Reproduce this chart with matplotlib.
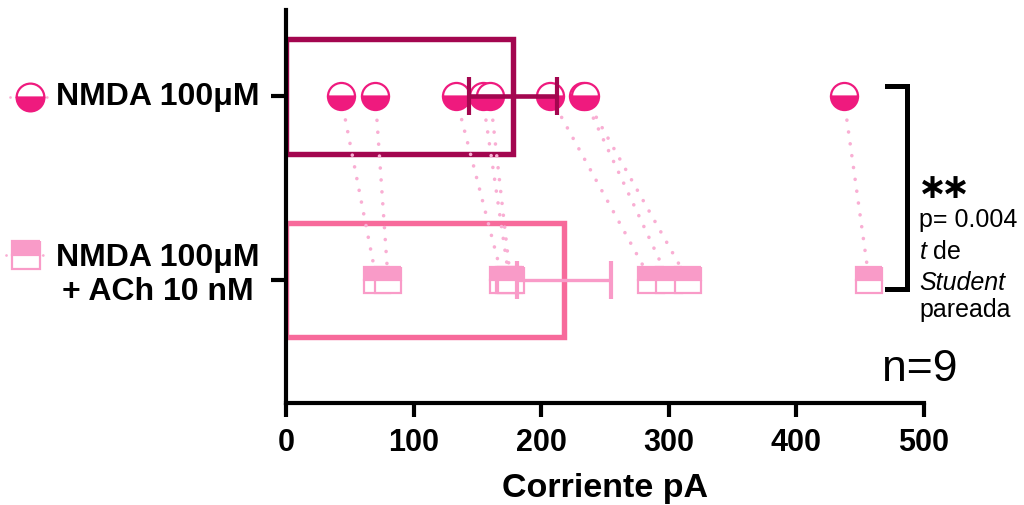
import matplotlib
matplotlib.use("Agg")
import matplotlib.pyplot as plt
from matplotlib.lines import Line2D
import numpy as np

plt.rcParams["font.family"] = ["Liberation Sans", "DejaVu Sans"]
plt.rcParams["mathtext.fontset"] = "custom"
plt.rcParams["mathtext.rm"] = "Liberation Sans"
plt.rcParams["mathtext.it"] = "Liberation Sans:italic"
plt.rcParams["mathtext.bf"] = "Liberation Sans:bold"
plt.rcParams["mathtext.sf"] = "DejaVu Sans:bold"

# ---------------------
# DATA
# ---------------------
categories = ["NMDA 100μM", "NMDA 100μM\n+ ACh 10 nM"]
nmda = [43, 70, 133, 154, 160, 207, 233, 234, 437]
nmda_ach = [71, 80, 170, 175, 176, 286, 300, 315, 457]
bar_means = [178, 218]
bar_sem = [34.5, 37]
xticks = [0, 100, 200, 300, 400, 500]

# colours
dark_mag = "#A3064F"
hot_pink = "#EF1A7E"
bar_pink = "#F76A9B"
pale_pink = "#F99BC8"
dot_pink = "#F9AED3"
dots = (0, (0.01, 3.3))

W, H = 1024, 505
fig = plt.figure(figsize=(W / 100, H / 100), dpi=100)
ax = fig.add_axes([286 / W, 102 / H, 638 / W, 393 / H])

def fx(px):
    return px / W

def fy(py):
    return 1 - py / H

# ---------------------
# BARS
# ---------------------
ax.barh(0, bar_means[0], height=0.63, facecolor="none", edgecolor=dark_mag,
        linewidth=3.9, zorder=1)
ax.barh(1, bar_means[1], height=0.62, facecolor="none", edgecolor=bar_pink,
        linewidth=3.9, zorder=1)

# paired lines
for a, b in zip(nmda, nmda_ach):
    ax.plot([a, b], [0, 1], color=dot_pink, linewidth=2.6,
            linestyle=dots, dash_capstyle="round", zorder=2)

# points
ax.plot(nmda, [0] * len(nmda), linestyle="none", marker="o", markersize=19.5,
        fillstyle="bottom", markerfacecolor=hot_pink, markerfacecoloralt="white",
        markeredgecolor=hot_pink, markeredgewidth=1.6, zorder=3)
ax.plot(nmda_ach, [1] * len(nmda_ach), linestyle="none", marker="s", markersize=19,
        fillstyle="top", markerfacecolor=pale_pink, markerfacecoloralt="white",
        markeredgecolor=pale_pink, markeredgewidth=1.6, zorder=3)

# error bars
ax.errorbar(bar_means[0], 0, xerr=bar_sem[0], color=dark_mag, elinewidth=3.3,
            capsize=13.5, capthick=3, zorder=4)
ax.errorbar(bar_means[1], 1, xerr=bar_sem[1], color=pale_pink, elinewidth=2.4,
            capsize=14, capthick=3, zorder=4)

# ---------------------
# AXES STYLE
# ---------------------
ax.set_xlim(0, 500)
ax.set_ylim(1.670, -0.471)
ax.set_xticks(xticks)
ax.set_yticks([0, 1])
ax.set_yticklabels(["", ""])
ax.tick_params(axis="x", labelsize=22, width=3, length=10, pad=8)
for lab in ax.get_xticklabels():
    lab.set_fontweight("bold")
ax.tick_params(axis="y", width=3, length=11)
ax.spines["top"].set_visible(False)
ax.spines["right"].set_visible(False)
ax.spines["left"].set_linewidth(3)
ax.spines["bottom"].set_linewidth(3)
ax.set_xlabel("Corriente pA", fontsize=24.5, fontweight="bold", labelpad=11)

# category labels
fig.text(fx(260), fy(97), categories[0], fontsize=23, fontweight="bold",
         ha="right", va="center")
fig.text(fx(260), fy(275), categories[1], fontsize=23, fontweight="bold",
         ha="right", va="center", multialignment="center", linespacing=1.15)

# legend-like icons next to the category labels
fig.add_artist(Line2D([fx(10), fx(50)], [fy(97), fy(97)], color=dot_pink,
                      linewidth=2, linestyle=dots, dash_capstyle="round"))
fig.add_artist(Line2D([fx(30)], [fy(97)], marker="o", markersize=20,
                      fillstyle="bottom", markerfacecolor=hot_pink,
                      markerfacecoloralt="white", markeredgecolor=hot_pink,
                      markeredgewidth=1.6))
fig.add_artist(Line2D([fx(6), fx(46)], [fy(255), fy(255)], color=dot_pink,
                      linewidth=2, linestyle=dots, dash_capstyle="round"))
fig.add_artist(Line2D([fx(26)], [fy(255)], marker="s", markersize=19.5,
                      fillstyle="top", markerfacecolor=pale_pink,
                      markerfacecoloralt="white", markeredgecolor=pale_pink,
                      markeredgewidth=1.6))

# ---------------------
# SIGNIFICANCE BRACKET + TEXT
# ---------------------
fig.add_artist(Line2D([fx(887), fx(907), fx(907), fx(887)],
                      [fy(86), fy(86), fy(289), fy(289)],
                      color="black", linewidth=3.6, solid_joinstyle="miter"))
fig.text(fx(917), fy(205), r"$\mathsf{∗}\hspace{-0.2}\mathsf{∗}$", fontsize=25,
         va="bottom")
fig.text(fx(919), fy(227), "p= 0.004", fontsize=18, va="baseline")
fig.text(fx(919), fy(259), "$\\it{t}$ de", fontsize=18, va="baseline")
fig.text(fx(919), fy(290), "Student", fontsize=18, style="italic", va="baseline")
fig.text(fx(919), fy(317), "pareada", fontsize=18, va="baseline")
fig.text(fx(882), fy(381), "n=9", fontsize=32, va="baseline")

fig.savefig("out.png", dpi=100)
